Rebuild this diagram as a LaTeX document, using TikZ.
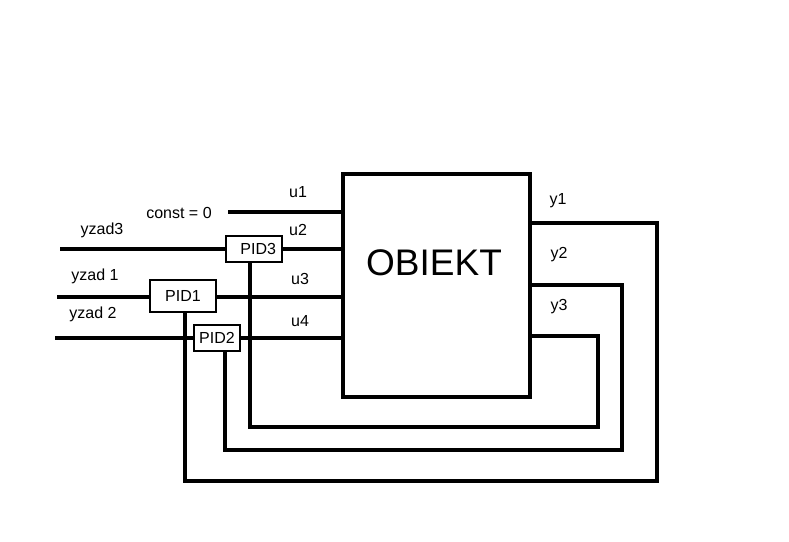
\documentclass[tikz,border=0pt]{standalone}
\usepackage{fontspec}
\setmainfont{Liberation Sans}
\begin{document}
\begin{tikzpicture}[x=1pt,y=-1pt,
  wire/.style={line width=3.6pt},
  pid/.style={draw, line width=2pt, inner sep=0pt, font=\fontsize{16}{19}\selectfont},
  lbl/.style={font=\fontsize{16}{19}\selectfont, inner sep=0pt}]
\useasboundingbox (0,0) rectangle (789,541);
% object
\node[draw, line width=3.4pt, minimum width=187pt, minimum height=223pt] (obj) at (436.5,285.5) {};
\node[font=\fontsize{37}{44}\selectfont, inner sep=0pt] (objlbl) at (434,263) {OBIEKT};
% controllers
\node[pid, minimum width=56pt, minimum height=26pt, text width=44pt, align=right] (pid3) at (254,249) {PID3};
\node[pid, minimum width=66pt, minimum height=32pt] (pid1) at (183,296) {PID1};
\node[pid, minimum width=46pt, minimum height=26pt] (pid2) at (217,338) {PID2};
% inputs
\coordinate (c0) at (228,212);
\coordinate (z3) at (60,249);
\coordinate (z1) at (57,297);
\coordinate (z2) at (55,338);
\draw[wire] (c0) -- (c0 -| obj.west);
\draw[wire] (z3) -- (pid3.west);
\draw[wire] (pid3.east) -- (pid3.east -| obj.west);
\draw[wire] (z1) -- (z1 -| pid1.west);
\draw[wire] (z1 -| pid1.east) -- (z1 -| obj.west);
\draw[wire] (z2) -- (pid2.west);
\draw[wire] (pid2.east) -- (pid2.east -| obj.west);
% feedback
\coordinate (r1) at (657,223); \coordinate (b1) at (657,481); \coordinate (l1) at (185,481);
\coordinate (r2) at (622,285); \coordinate (b2) at (622,450); \coordinate (l2) at (225,450);
\coordinate (r3) at (598,336); \coordinate (b3) at (598,427); \coordinate (l3) at (250,427);
\draw[wire] (obj.east |- r1) -- (r1) -- (b1) -- (l1) -- (l1 |- pid1.south);
\draw[wire] (obj.east |- r2) -- (r2) -- (b2) -- (l2) -- (l2 |- pid2.south);
\draw[wire] (obj.east |- r3) -- (r3) -- (b3) -- (l3) -- (l3 |- pid3.south);
% labels
\node[lbl] (lu1) at (298,192) {u1};
\node[lbl] (lu2) at (298,230) {u2};
\node[lbl] (lu3) at (300,279) {u3};
\node[lbl] (lu4) at (300,321) {u4};
\node[lbl] (lc) at (179,213) {const = 0};
\node[lbl] (ly3) at (102,230) {yzad3};
\node[lbl] (ly1) at (95,276) {yzad 1};
\node[lbl] (ly2) at (93,314) {yzad 2};
\node[lbl] (o1) at (558,201) {y1};
\node[lbl] (o2) at (559,255) {y2};
\node[lbl] (o3) at (559,307) {y3};
\end{tikzpicture}
\end{document}
